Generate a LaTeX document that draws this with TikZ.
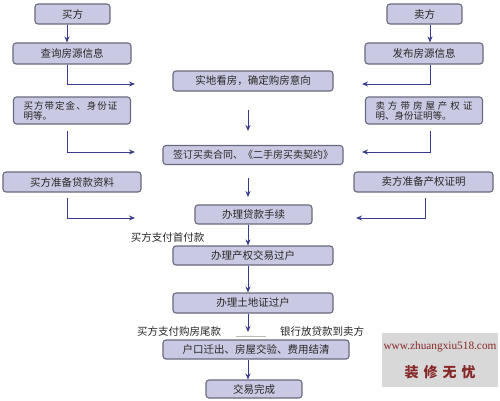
\documentclass[tikz,border=0pt]{standalone}
\usepackage{fontspec}
\setmainfont{Liberation Serif}
\newfontfamily\cjk{Noto Sans CJK SC}
\usetikzlibrary{arrows.meta}
\definecolor{boxfill}{RGB}{201,201,227}
\definecolor{boxdraw}{RGB}{105,105,125}
\definecolor{arrcol}{RGB}{58,58,140}
\definecolor{txt}{RGB}{40,40,40}
\definecolor{wmbg}{RGB}{216,216,216}
\definecolor{wmtxt}{RGB}{135,40,40}
\tikzset{
  box/.style={draw=boxdraw, fill=boxfill, rounded corners=3pt, line width=1.1pt,
    inner sep=0pt, text=txt, font=\cjk\fontsize{10.5}{12}\selectfont},
  twoline/.style={box, align=left, inner xsep=10pt, text width=97pt,
    font=\cjk\fontsize{9.5}{10}\selectfont},
  arr/.style={draw=arrcol, line width=1pt, -{Stealth[length=6pt,width=5pt]}},
  lbl/.style={inner sep=1pt, text=txt, font=\cjk\fontsize{10.5}{12}\selectfont},
}
\begin{document}
\begin{tikzpicture}[x=1pt,y=-1pt]
\useasboundingbox (0,0) rectangle (500,400);
\fill[white] (0,0) rectangle (500,400);

% boxes
\node[box, minimum width=75pt, minimum height=20pt] (buyer) at (72.5,14) {买方};
\node[box, minimum width=75pt, minimum height=20pt] (seller) at (424.5,14) {卖方};
\node[box, minimum width=118pt, minimum height=21pt] (query) at (72,53.5) {查询房源信息};
\node[box, minimum width=118pt, minimum height=21pt] (publish) at (424,53.5) {发布房源信息};
\node[box, minimum width=160pt, minimum height=20pt] (view) at (253,81) {实地看房，确定购房意向};
\node[twoline, minimum height=27pt] (buyerdep) at (72,110.5)
  {\hbox to 94pt{买\hfill 方\hfill 带\hfill 定\hfill 金\hfill 、\hfill 身\hfill 份\hfill 证}\\明等。};
\node[twoline, minimum height=27pt] (sellerdep) at (424,110.5)
  {\hbox to 97pt{卖\hfill 方\hfill 带\hfill 房\hfill 屋\hfill 产\hfill 权\hfill 证}\\明、身份证明等。};
\node[box, minimum width=180pt, minimum height=19pt, font=\cjk\fontsize{10}{12}\selectfont] (sign) at (253,155) {签订买卖合同、《二手房买卖契约》};
\node[box, minimum width=138pt, minimum height=20pt] (buyerloan) at (72,182) {买方准备贷款资料};
\node[box, minimum width=139pt, minimum height=20pt] (sellerprop) at (423.5,182) {卖方准备产权证明};
\node[box, minimum width=117pt, minimum height=19pt] (loan) at (253.5,214.5) {办理贷款手续};
\node[box, minimum width=160pt, minimum height=19pt] (prop) at (253,255.5) {办理产权交易过户};
\node[box, minimum width=160pt, minimum height=20pt] (land) at (253,303) {办理土地证过户};
\node[box, minimum width=186pt, minimum height=19pt] (hukou) at (256,349.5) {户口迁出、房屋交验、费用结清};
\node[box, minimum width=96pt, minimum height=18pt] (done) at (254,389) {交易完成};

% labels
\node[lbl] (pay1) at (167.5,237) {买方支付首付款};
\node[lbl] (pay2) at (179,331) {买方支付购房尾款};
\node[lbl] (bank) at (322,331) {银行放贷款到卖方};

% small grey mark
\draw[gray!55, line width=1pt] (236,336) -- (266,336);

% connector coordinates
\coordinate (xa) at (67,0);
\coordinate (xb) at (430,0);
\coordinate (xc) at (248,0);
\coordinate (e1) at (135,84);
\coordinate (e2) at (362,84);
\coordinate (s1) at (248,110);
\coordinate (t1) at (248,131);
\coordinate (s2) at (67,131);
\coordinate (e3) at (135,152);
\coordinate (s3) at (430,131);
\coordinate (e4) at (362,152);
\coordinate (s4) at (248,178);
\coordinate (t4) at (248,197);
\coordinate (s5) at (67,198);
\coordinate (e5) at (135,218);
\coordinate (s6) at (425,198);
\coordinate (e6) at (356,218);
\coordinate (t7) at (248,332);

% connectors
\draw[arr] (buyer.south -| xa) -- (query.north -| xa);
\draw[arr] (seller.south -| xb) -- (publish.north -| xb);
\draw[arr] (query.south -| xa) |- (e1);
\draw[arr] (publish.south -| xb) |- (e2);
\draw[arr] (s1) -- (t1);
\draw[arr] (s2) |- (e3);
\draw[arr] (s3) |- (e4);
\draw[arr] (s4) -- (t4);
\draw[arr] (s5) |- (e5);
\draw[arr] (s6) |- (e6);
\draw[arr] (loan.south -| xc) -- (prop.north -| xc);
\draw[arr] (prop.south -| xc) -- (land.north -| xc);
\draw[arr] (land.south -| xc) -- (t7);
\draw[arr] (hukou.south -| xc) -- (done.north -| xc);

% watermark
\node[fill=wmbg, minimum width=116pt, minimum height=54pt, inner sep=0pt] (wm) at (440,360) {};
\node[text=wmtxt, inner sep=0pt, font=\fontsize{11.3}{13}\selectfont] (wmurl) at (440,347) {www.zhuangxiu518.com};
\node[text=wmtxt, inner sep=0pt, font=\cjk\bfseries\fontsize{14}{16}\selectfont] (wmcn) at (440,372) {装\hspace{5pt}修\hspace{5pt}无\hspace{5pt}忧};
\end{tikzpicture}
\end{document}
